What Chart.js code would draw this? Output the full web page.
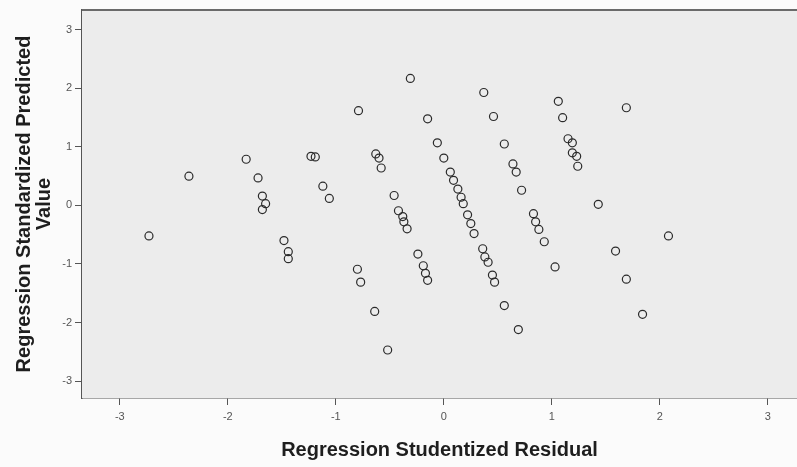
<!DOCTYPE html>
<html>
<head>
<meta charset="utf-8">
<script src="https://cdn.jsdelivr.net/npm/chart.js@4"></script>
<style>
  html, body { margin: 0; padding: 0; background: #fbfbfb; }
  #wrap { width: 797px; height: 467px; }
</style>
</head>
<body>
<div id="wrap"><canvas id="scatter"></canvas></div>
<script>
// residuals (x) and predicted values (y)
const residuals = [
  -2.73, -2.36, -1.83, -1.72, -1.68, -1.65, -1.68, -1.48, -1.44, -1.44,
  -1.23, -1.19, -1.12, -1.06, -0.79, -0.80, -0.77, -0.64, -0.52,
  -0.63, -0.60, -0.58, -0.46, -0.42, -0.38, -0.37, -0.34, -0.24, -0.19, -0.17, -0.15, -0.15, -0.31,
  -0.06, 0.00, 0.06, 0.09, 0.13, 0.16, 0.18, 0.22, 0.25, 0.28, 0.36, 0.38, 0.41, 0.45, 0.47, 0.56, 0.69,
  0.37, 0.46, 0.56, 0.64, 0.67, 0.72, 0.83, 0.85, 0.88, 0.93, 1.03,
  1.06, 1.10, 1.15, 1.19, 1.19, 1.23, 1.24, 1.43, 1.59, 1.69, 1.84,
  1.69, 2.08
];
const predicted = [
  -0.52, 0.50, 0.79, 0.47, 0.16, 0.03, -0.07, -0.60, -0.79, -0.91,
  0.84, 0.83, 0.33, 0.12, 1.62, -1.09, -1.31, -1.81, -2.47,
  0.88, 0.81, 0.64, 0.17, -0.09, -0.19, -0.28, -0.40, -0.83, -1.03, -1.16, -1.28, 1.48, 2.17,
  1.07, 0.81, 0.57, 0.43, 0.28, 0.14, 0.03, -0.16, -0.31, -0.48, -0.74, -0.88, -0.97, -1.19, -1.31, -1.71, -2.12,
  1.93, 1.52, 1.05, 0.71, 0.57, 0.26, -0.14, -0.28, -0.41, -0.62, -1.05,
  1.78, 1.50, 1.14, 1.07, 0.90, 0.84, 0.67, 0.02, -0.78, -1.26, -1.86,
  1.67, -0.52
];
const tickValues = [-3, -2, -1, 0, 1, 2, 3];

const points = residuals.map((r, i) => ({ x: r, y: predicted[i] }));

// grey plot background + top frame line
const plotFrame = {
  id: 'plotFrame',
  beforeDatasetsDraw(chart) {
    const { ctx, chartArea: a } = chart;
    ctx.save();
    ctx.fillStyle = '#ececec';
    ctx.fillRect(a.left, a.top, a.right - a.left, a.bottom - a.top);
    ctx.strokeStyle = '#6a6a6a';
    ctx.lineWidth = 2;
    ctx.beginPath();
    ctx.moveTo(a.left, a.top);
    ctx.lineTo(a.right, a.top);
    ctx.stroke();
    ctx.restore();
  }
};

const tickFont = { family: 'Liberation Sans', size: 11 };
const titleFont = { family: 'Liberation Sans', size: 20, weight: 'bold', lineHeight: 1 };

new Chart(document.getElementById('scatter'), {
  type: 'scatter',
  data: {
    datasets: [{
      data: points,
      pointStyle: 'circle',
      pointRadius: 4,
      pointBorderWidth: 1.2,
      pointBorderColor: '#2a2a2a',
      pointBackgroundColor: 'rgba(0,0,0,0)'
    }]
  },
  options: {
    responsive: true,
    maintainAspectRatio: false,
    animation: false,
    layout: { autoPadding: false, padding: { top: 10, left: 0, right: 0, bottom: 0 } },
    plugins: {
      legend: { display: false },
      tooltip: { enabled: false }
    },
    scales: {
      x: {
        type: 'linear',
        min: -3.35,
        max: 3.27,
        afterFit(scale) {
          scale.height = 69;
          scale.paddingLeft = 0;
          scale.paddingRight = 0;
        },
        afterBuildTicks(scale) { scale.ticks = tickValues.map(v => ({ value: v })); },
        border: { color: '#555', width: 1.5 },
        grid: { drawOnChartArea: false, drawTicks: true, tickLength: 7, color: '#555' },
        ticks: { color: '#555', font: tickFont, padding: 5 },
        title: {
          display: true,
          text: 'Regression Studentized Residual',
          color: '#1e1e1e',
          font: titleFont,
          padding: { top: 4, bottom: 7 }
        }
      },
      y: {
        type: 'linear',
        min: -3.29,
        max: 3.34,
        afterFit(scale) {
          scale.width = 82;
          scale.paddingTop = 0;
          scale.paddingBottom = 0;
        },
        afterBuildTicks(scale) { scale.ticks = tickValues.map(v => ({ value: v })); },
        border: { color: '#555', width: 1.5 },
        grid: { drawOnChartArea: false, drawTicks: true, tickLength: 7, color: '#555' },
        ticks: { color: '#555', font: tickFont, padding: 3 },
        title: {
          display: true,
          text: ['Regression Standardized Predicted', 'Value'],
          color: '#1e1e1e',
          font: titleFont,
          padding: { top: 14, bottom: 4 }
        }
      }
    }
  },
  plugins: [plotFrame]
});
</script>
</body>
</html>
